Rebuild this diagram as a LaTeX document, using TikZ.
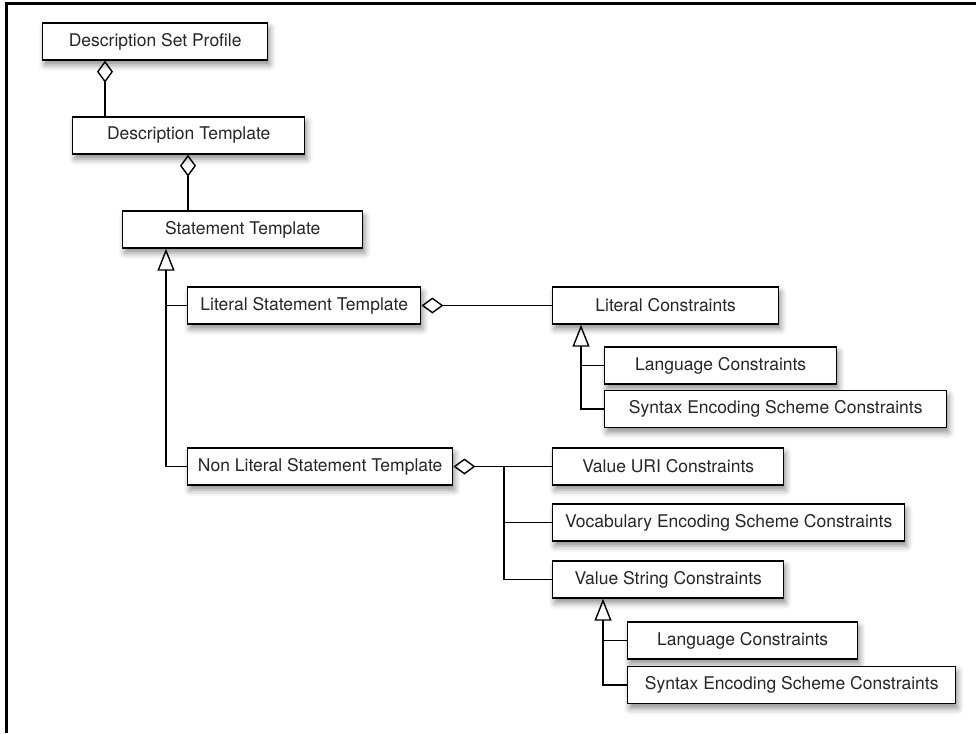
\documentclass[tikz,border=0pt]{standalone}
\usepackage{fontspec}
\setmainfont{TeX Gyre Heros}
\usetikzlibrary{arrows.meta,shadows.blur}

\begin{document}
\begin{tikzpicture}[x = 1pt, y = -1pt,
            box/.style = {draw, line width = 1.4pt, fill = white, anchor = west,
                minimum height = 37pt, inner sep = 0pt, text = black!85,
                font = \fontsize{17.5}{21}\selectfont,
                blur shadow = {shadow xshift = 2pt, shadow yshift = -5pt,
                    shadow blur radius = 6pt, shadow opacity = 45}},
            link/.style = {line width = 1.4pt},
            agg/.style = {link, -{Diamond[open, length = 22pt, width = 16pt]}},
            gen/.style = {link, -{Triangle[open, length = 22pt, width = 17pt]}}]
            \useasboundingbox (0,0) rectangle (976,733);
            \draw[line width = 3pt] (976,3.5) -- (6.5,3.5) -- (6.5,733);

            \node[box, minimum width = 225pt] (dsp) at (42,41.5) {Description Set Profile};
            \node[box, minimum width = 232pt] (dt) at (72,135.5) {Description Template};
            \node[box, minimum width = 240pt] (st) at (122,229.5) {Statement Template};
            \node[box, minimum width = 233pt] (lst) at (187,305.5) {Literal Statement Template};
            \node[box, minimum width = 226pt] (lc) at (552,305.5) {Literal Constraints};
            \node[box, minimum width = 232pt] (lang1) at (604,365.5) {Language Constraints};
            \node[box, minimum width = 342pt] (ses1) at (604,409) {Syntax Encoding Scheme Constraints};
            \node[box, minimum width = 265pt] (nlst) at (187,466.5) {Non Literal Statement Template};
            \node[box, minimum width = 231pt] (vuri) at (552,466.5) {Value URI Constraints};
            \node[box, minimum width = 352pt] (ves) at (552,522.5) {Vocabulary Encoding Scheme Constraints};
            \node[box, minimum width = 231pt] (vsc) at (552,579.5) {Value String Constraints};
            \node[box, minimum width = 230pt] (lang2) at (627,640.5) {Language Constraints};
            \node[box, minimum width = 328pt] (ses2) at (627,685) {Syntax Encoding Scheme Constraints};

            \coordinate (dspa) at ([xshift = 63pt]dsp.south west);
            \coordinate (dta) at ([xshift = 116pt]dt.south west);
            \coordinate (sta) at ([xshift = 44pt]st.south west);
            \coordinate (lca) at ([xshift = 29pt]lc.south west);
            \coordinate (nla) at ([xshift = -48pt]vuri.west);
            \coordinate (vsa) at ([xshift = 51pt]vsc.south west);

            \draw[agg] (dspa |- dt.north) -- (dspa);
            \draw[agg] (dta |- st.north) -- (dta);
            \draw[gen] (nlst.west) -| (sta);
            \draw[link] (lst.west) -- (lst.west -| sta);
            \draw[agg] (lc.west) -- (lst.east);
            \draw[gen] (ses1.west) -| (lca);
            \draw[link] (lang1.west) -- (lang1.west -| lca);
            \draw[agg] (vuri.west) -- (nlst.east);
            \draw[link] (vsc.west) -| (nla);
            \draw[link] (ves.west) -- (ves.west -| nla);
            \draw[gen] (ses2.west) -| (vsa);
            \draw[link] (lang2.west) -- (lang2.west -| vsa);
        \end{tikzpicture}
\end{document}
